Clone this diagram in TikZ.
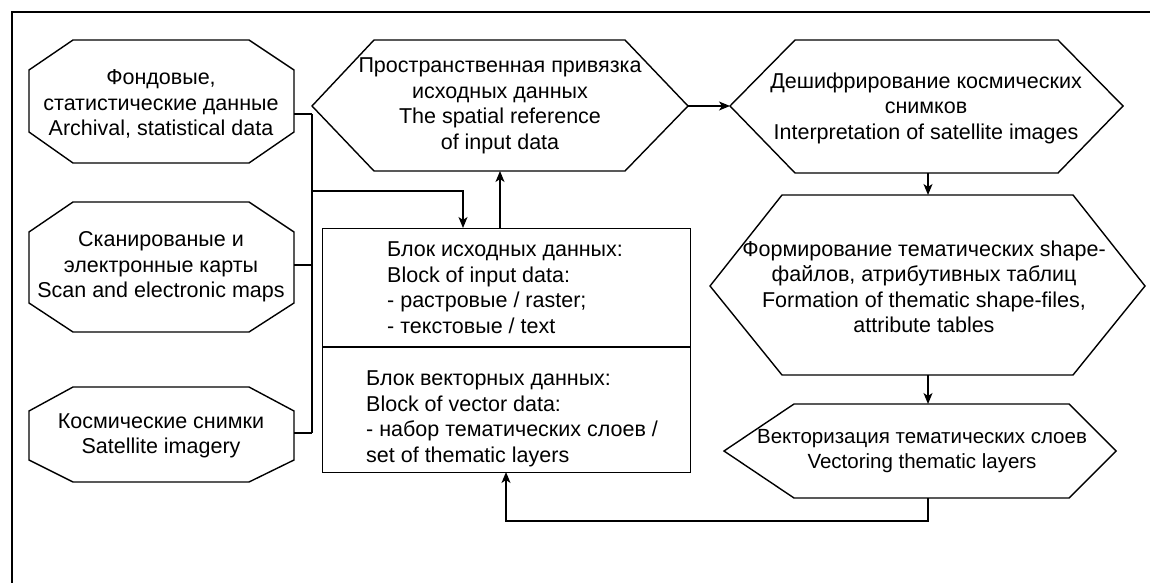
\documentclass[tikz,border=0pt]{standalone}
\usepackage{fontspec}
\setmainfont{Liberation Sans}
\usetikzlibrary{arrows.meta}
\begin{document}
\begin{tikzpicture}[x=1pt,y=-1pt,
  shp/.style={draw=black, line width=1.4pt, line join=miter},
  conn/.style={draw=black, line width=1.4pt},
  arr/.style={conn, -{Stealth[length=11pt,width=9pt,inset=3pt]}},
  lbl/.style={font=\fontsize{21.5}{25.5}\selectfont, align=center, inner sep=0pt},
  lbls/.style={font=\fontsize{20.5}{24.5}\selectfont, align=center, inner sep=0pt},
  lbll/.style={font=\fontsize{21.5}{25.5}\selectfont, align=left, inner sep=0pt, anchor=north west}]
\useasboundingbox (0,0) rectangle (1150,583);
\draw[line width=2pt] (12,583) -- (12,12) -- (1150,12);

% left octagons
\draw[shp] (73,40) -- (249,40) -- (294,70) -- (294,132) -- (249,163) -- (73,163) -- (29,132) -- (29,70) -- cycle;
\draw[shp] (73,202) -- (249,202) -- (294,232) -- (294,303) -- (249,332) -- (73,332) -- (29,303) -- (29,232) -- cycle;
\draw[shp] (73,387) -- (249,387) -- (294,411) -- (294,460) -- (249,482) -- (73,482) -- (29,460) -- (29,411) -- cycle;
\node[lbl] (t1) at (161,104) {Фондовые,\\статистические данные\\Archival, statistical data};
\node[lbl] (t2) at (161,267) {Сканированые и\\электронные карты\\Scan and electronic maps};
\node[lbl] (t3) at (161,436) {Космические снимки\\Satellite imagery};

% hexagons
\draw[shp] (312,106) -- (374,40) -- (625,40) -- (688,106) -- (625,171) -- (374,171) -- cycle;
\node[lbl] (tsr) at (500,106) {Пространственная привязка\\исходных данных\\The spatial reference\\of input data};

\draw[shp] (730,106) -- (795,40) -- (1058,40) -- (1123,106) -- (1058,173) -- (795,173) -- cycle;
\node[lbl] (tdec) at (926,108) {Дешифрирование космических\\снимков\\Interpretation of satellite images};

\draw[shp] (710,286) -- (782,195) -- (1073,195) -- (1145,286) -- (1073,375) -- (782,375) -- cycle;
\node[lbl] (tform) at (924,287) {Формирование тематических shape-\\файлов, атрибутивных таблиц\\Formation of thematic shape-files,\\attribute tables};

\draw[shp] (724,451) -- (794,404) -- (1069,404) -- (1116,451) -- (1069,498) -- (794,498) -- cycle;
\node[lbls] (tvec) at (922,451) {Векторизация тематических слоев\\Vectoring thematic layers};

% block box
\node[shp, rectangle, minimum width=368pt, minimum height=244pt, anchor=north west, inner sep=0pt] (box) at (322,228) {};
\draw[shp] (322,347) -- (690,347);
\node[lbll] (tbin) at (387,242) {Блок исходных данных:\\Block of input data:\\- растровые / raster;\\- текстовые / text};
\node[lbll] (tbvec) at (366,371) {Блок векторных данных:\\Block of vector data:\\- набор тематических слоев /\\set of thematic layers};

% connection points
\coordinate (o1e) at (294,114);
\coordinate (o2e) at (294,265);
\coordinate (o3e) at (294,433);
\coordinate (b1) at (312,114);
\coordinate (b2) at (312,265);
\coordinate (b3) at (312,433);
\coordinate (bj) at (312,191);
\coordinate (bk) at (463,191);
\coordinate (boxin) at (463,228);
\coordinate (boxout) at (500,228);
\coordinate (srs) at (500,171);
\coordinate (sre) at (688,106);
\coordinate (decw) at (730,106);
\coordinate (decs) at (928,173);
\coordinate (formn) at (928,195);
\coordinate (forms) at (928,375);
\coordinate (vecn) at (928,404);
\coordinate (vecs) at (928,498);
\coordinate (fb1) at (928,521);
\coordinate (fb2) at (506,521);
\coordinate (boxs) at (506,472);

\draw[conn] (o1e) -- (b1);
\draw[conn] (o2e) -- (b2);
\draw[conn] (o3e) -- (b3);
\draw[conn] (b1) -- (b3);
\draw[arr] (bj) -- (bk) -- (boxin);
\draw[arr] (boxout) -- (srs);
\draw[arr] (sre) -- (decw);
\draw[arr] (decs) -- (formn);
\draw[arr] (forms) -- (vecn);
\draw[arr] (vecs) -- (fb1) -- (fb2) -- (boxs);
\end{tikzpicture}
\end{document}
